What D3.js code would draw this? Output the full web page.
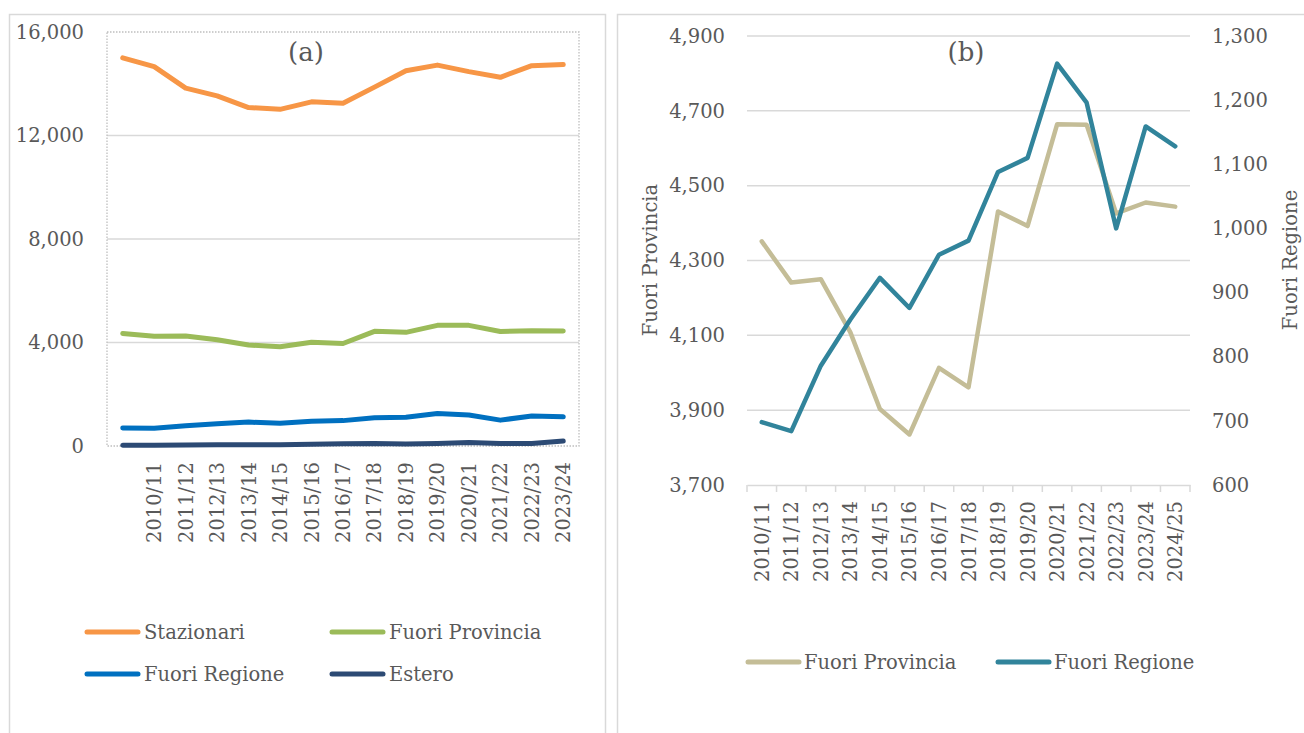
<!DOCTYPE html>
<html><head><meta charset="utf-8">
<script src="https://cdn.jsdelivr.net/npm/d3@7"></script>
<style>
body{margin:0;background:#fff;}
svg text{font-family:"DejaVu Serif",serif;fill:#595959;}
</style></head>
<body><svg id="c" width="1304" height="733"></svg>
<script>
// ---- data ----
const categoriesA = ["", "2010/11","2011/12","2012/13","2013/14","2014/15","2015/16","2016/17","2017/18","2018/19","2019/20","2020/21","2021/22","2022/23","2023/24"];
const categoriesB = ["2010/11","2011/12","2012/13","2013/14","2014/15","2015/16","2016/17","2017/18","2018/19","2019/20","2020/21","2021/22","2022/23","2023/24","2024/25"];
const stazionari = [15000,14660,13830,13530,13080,13010,13300,13250,13870,14500,14720,14470,14250,14700,14740];
const fuoriProvincia = [4351,4241,4250,4108,3903,3835,4013,3961,4431,4392,4664,4663,4426,4455,4444];
const fuoriRegione = [698,684,786,858,923,876,959,981,1088,1110,1257,1196,1000,1159,1128];
const estero = [25,30,40,45,50,50,70,85,100,80,100,140,100,100,190];
const ticksA = [0,4000,8000,12000,16000];
const ticksBLeft = [3700,3900,4100,4300,4500,4700,4900];
const ticksBRight = [600,700,800,900,1000,1100,1200,1300];
const seriesA = [
  {name:"Stazionari", values:stazionari, color:"#F79646"},
  {name:"Fuori Provincia", values:fuoriProvincia, color:"#9BBB59"},
  {name:"Fuori Regione", values:fuoriRegione, color:"#0070C0"},
  {name:"Estero", values:estero, color:"#2C4A74"}
];
const colorFP = "#C4BD97", colorFR = "#31849B";
const fmt = d3.format(",");

const svg = d3.select("#c");
const grid = "#d9d9d9";

// boxes
svg.append("rect").attr("x",9.5).attr("y",14.5).attr("width",596).attr("height",740)
  .attr("fill","none").attr("stroke",grid).attr("stroke-width",1.5);
svg.append("rect").attr("x",617.5).attr("y",14.5).attr("width",700).attr("height",740)
  .attr("fill","none").attr("stroke",grid).attr("stroke-width",1.5);

// ---------------- Panel (a) ----------------
const gA = svg.append("g");
const xA = d3.scaleBand().domain(categoriesA.map((d,i)=>i)).range([107,579]).padding(0);
const cxA = i => xA(i) + xA.bandwidth()/2;
const yA = d3.scaleLinear().domain([0,16000]).range([446,32]);

gA.selectAll("line.grid").data(ticksA.filter(t=>t>0 && t<16000)).join("line")
  .attr("x1",107).attr("x2",579).attr("y1",d=>yA(d)).attr("y2",d=>yA(d))
  .attr("stroke",grid).attr("stroke-width",1.3);
gA.append("rect").attr("x",107).attr("y",yA(16000)).attr("width",472).attr("height",yA(0)-yA(16000))
  .attr("fill","none").attr("stroke","#bfbfbf").attr("stroke-width",1.3).attr("stroke-dasharray","1.5,1.5");

const axA = gA.append("g").attr("transform","translate(107,0)")
  .call(d3.axisLeft(yA).tickValues(ticksA).tickSize(0).tickPadding(23).tickFormat(fmt));
axA.select(".domain").remove();
axA.selectAll("text").style("font-size","19.5px").attr("fill","#595959");

gA.selectAll("text.xl").data(categoriesA.map((c,i)=>({c,i})).filter(d=>d.c!=="")).join("text")
  .attr("class","xl")
  .attr("transform",d=>`translate(${cxA(d.i)},462) rotate(-90)`)
  .attr("text-anchor","end").attr("dy","0.36em").style("font-size","19.5px").text(d=>d.c);

const lineA = d3.line().x((d,i)=>cxA(i)).y(d=>yA(d));
seriesA.slice().reverse().forEach(s=>{
  gA.append("path").attr("d",lineA(s.values)).attr("fill","none").attr("stroke",s.color)
    .attr("stroke-width",5).attr("stroke-linejoin","round").attr("stroke-linecap","round");
});
gA.append("text").attr("x",306).attr("y",52).attr("text-anchor","middle").attr("dy","0.35em")
  .style("font-size","26px").text("(a)");

// legend (a)
const legPosA = [[85,632],[330,632],[85,674],[330,674]];
seriesA.forEach((s,i)=>{
  const [lx,ly] = legPosA[i];
  gA.append("line").attr("x1",lx+2).attr("x2",lx+53).attr("y1",ly).attr("y2",ly)
    .attr("stroke",s.color).attr("stroke-width",5).attr("stroke-linecap","round");
  gA.append("text").attr("x",lx+59).attr("y",ly).attr("dy","0.35em").style("font-size","19.5px").text(s.name);
});

// ---------------- Panel (b) ----------------
const gB = svg.append("g");
const xB = d3.scaleBand().domain(categoriesB).range([747,1190]).padding(0);
const cxB = c => xB(c) + xB.bandwidth()/2;
const yL = d3.scaleLinear().domain([3700,4900]).range([485,36]);
const yR = d3.scaleLinear().domain([600,1300]).range([485,36]);

gB.selectAll("line.grid").data(ticksBLeft.filter(t=>t>3700)).join("line")
  .attr("x1",747).attr("x2",1190).attr("y1",d=>yL(d)).attr("y2",d=>yL(d))
  .attr("stroke",grid).attr("stroke-width",1.5);

const axBx = gB.append("g").attr("transform","translate(0,485)")
  .call(d3.axisBottom(xB).tickSize(0).tickFormat(""));
axBx.select(".domain").attr("stroke",grid).attr("stroke-width",1.5);
gB.selectAll("line.xt").data(d3.range(categoriesB.length+1)).join("line")
  .attr("x1",i=>747+i*xB.bandwidth()).attr("x2",i=>747+i*xB.bandwidth())
  .attr("y1",485).attr("y2",492).attr("stroke",grid).attr("stroke-width",1.5);
gB.selectAll("text.xl").data(categoriesB).join("text").attr("class","xl")
  .attr("transform",d=>`translate(${cxB(d)},501) rotate(-90)`)
  .attr("text-anchor","end").attr("dy","0.36em").style("font-size","19.5px").text(d=>d);

const axL = gB.append("g").attr("transform","translate(747,0)")
  .call(d3.axisLeft(yL).tickValues(ticksBLeft).tickSize(0).tickPadding(22).tickFormat(fmt));
axL.select(".domain").remove();
axL.selectAll("text").style("font-size","19.5px").attr("fill","#595959");
const axR = gB.append("g").attr("transform","translate(1190,0)")
  .call(d3.axisRight(yR).tickValues(ticksBRight).tickSize(0).tickPadding(22).tickFormat(fmt));
axR.select(".domain").remove();
axR.selectAll("text").style("font-size","19.5px").attr("fill","#595959");

gB.append("text").attr("transform","translate(650,260) rotate(-90)").attr("text-anchor","middle")
  .attr("dy","0.35em").style("font-size","19.5px").text("Fuori Provincia");
gB.append("text").attr("transform","translate(1290,260) rotate(-90)").attr("text-anchor","middle")
  .attr("dy","0.35em").style("font-size","19.5px").text("Fuori Regione");

const lineL = d3.line().x((d,i)=>cxB(categoriesB[i])).y(d=>yL(d));
const lineR = d3.line().x((d,i)=>cxB(categoriesB[i])).y(d=>yR(d));
gB.append("path").attr("d",lineL(fuoriProvincia)).attr("fill","none").attr("stroke",colorFP)
  .attr("stroke-width",4.5).attr("stroke-linejoin","round").attr("stroke-linecap","round");
gB.append("path").attr("d",lineR(fuoriRegione)).attr("fill","none").attr("stroke",colorFR)
  .attr("stroke-width",4.5).attr("stroke-linejoin","round").attr("stroke-linecap","round");
gB.append("text").attr("x",966).attr("y",52).attr("text-anchor","middle").attr("dy","0.35em")
  .style("font-size","26px").text("(b)");

const legB = [["Fuori Provincia",colorFP,746],["Fuori Regione",colorFR,996]];
legB.forEach(([n,c,lx])=>{
  gB.append("line").attr("x1",lx+2).attr("x2",lx+53).attr("y1",662).attr("y2",662)
    .attr("stroke",c).attr("stroke-width",5).attr("stroke-linecap","round");
  gB.append("text").attr("x",lx+58).attr("y",662).attr("dy","0.35em").style("font-size","19.5px").text(n);
});
</script></body></html>
